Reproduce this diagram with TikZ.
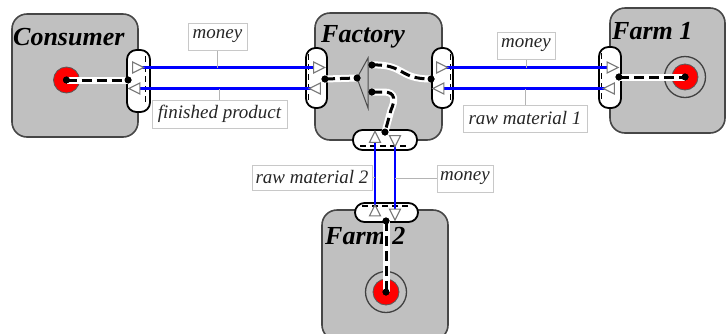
\documentclass[tikz,border=0pt]{standalone}
\usepackage{fontspec}
\setmainfont{Liberation Serif}
\usetikzlibrary{shapes.geometric}
\pgfdeclarelayer{front}
\pgfsetlayers{main,front}

\definecolor{boxgray}{RGB}{192,192,192}
\definecolor{edgegray}{RGB}{70,70,70}
\definecolor{taggray}{RGB}{200,200,200}
\definecolor{flowblue}{RGB}{0,0,255}
\definecolor{tipgray}{RGB}{120,120,120}

\begin{document}
\begin{tikzpicture}[x=1pt,y=-1pt,
  unitbox/.style={draw=edgegray, line width=1.6pt, fill=boxgray, rounded corners=15pt, inner sep=0pt},
  portbox/.style={draw=black, line width=1.8pt, fill=white, rounded corners=9.5pt, inner sep=0pt},
  portline/.style={draw=black, line width=1.4pt, dash pattern=on 6pt off 4pt},
  title/.style={anchor=base west, inner sep=0pt, font=\fontsize{26}{28}\selectfont\bfseries\itshape},
  tag/.style={draw=taggray, line width=1pt, fill=white, inner sep=0pt, text=black!85,
              font=\fontsize{19}{21}\selectfont\itshape},
  tagline/.style={draw=taggray!90!black, line width=0.9pt},
  tipmark/.style={isosceles triangle, isosceles triangle stretches, minimum width=11pt, minimum height=11pt,
                  inner sep=0pt, draw=tipgray, fill=white, line width=1.1pt},
  flow/.style={draw=flowblue, line width=2.5pt},
  wire/.style={draw=black, line width=3pt, dash pattern=on 10pt off 5pt,
               preaction={draw=white, line width=7pt, solid}},
  dot/.style={circle, fill=black, inner sep=0pt, minimum size=7pt},
  redspot/.style={circle, fill=red, draw=black!65, line width=0.8pt, inner sep=0pt, minimum size=26pt},
  ring/.style={circle, draw=black!75, line width=1.3pt, inner sep=0pt, minimum size=41pt},
  splitter/.style={draw=black!70, line width=1pt}
]
\useasboundingbox (0,0) rectangle (726,333);
\clip (0,0) rectangle (726,333);

% actors
\node[unitbox, minimum width=126pt, minimum height=123pt] (consumer) at (75,75.5) {};
\node[unitbox, minimum width=127pt, minimum height=127pt] (factory) at (378.5,76.5) {};
\node[unitbox, minimum width=115pt, minimum height=125pt] (farmA) at (667.5,70.5) {};
\node[unitbox, minimum width=126pt, minimum height=130pt] (farmB) at (385,275) {};

\node[title] (tc) at (13,45) {Consumer};
\node[title] (tf) at (321,42) {Factory};
\node[title] (ta) at (612,39) {Farm 1};
\node[title] (tb) at (325,244) {Farm 2};

% ports
\node[portbox, minimum width=23pt, minimum height=62pt] (pc) at (138.5,81) {};
\node[portbox, minimum width=21pt, minimum height=60pt] (pfl) at (316.5,78) {};
\node[portbox, minimum width=21pt, minimum height=60pt] (pfr) at (442.5,78) {};
\node[portbox, minimum width=22pt, minimum height=61pt] (pa) at (610,77.5) {};
\node[portbox, minimum width=64pt, minimum height=20pt] (pfb) at (385,140) {};
\node[portbox, minimum width=63pt, minimum height=19pt] (pb) at (386.5,212.5) {};

\draw[portline] ([xshift=-5.5pt,yshift=-7pt]pc.north east) -- ([xshift=-5.5pt,yshift=7pt]pc.south east);
\draw[portline] ([xshift=3.5pt,yshift=-7pt]pfl.north west) -- ([xshift=3.5pt,yshift=7pt]pfl.south west);
\draw[portline] ([xshift=-3.5pt,yshift=-7pt]pfr.north east) -- ([xshift=-3.5pt,yshift=7pt]pfr.south east);
\draw[portline] ([xshift=3.5pt,yshift=-7pt]pa.north west) -- ([xshift=3.5pt,yshift=7pt]pa.south west);
\draw[portline] ([xshift=8pt,yshift=5pt]pfb.south west) -- ([xshift=-8pt,yshift=5pt]pfb.south east);
\draw[portline] ([xshift=8pt,yshift=-4pt]pb.north west) -- ([xshift=-8pt,yshift=-4pt]pb.north east);

% flow direction marks
\begin{pgfonlayer}{front}
\node[tipmark, shape border rotate=0]   (c1) at (136,67.5) {};
\node[tipmark, shape border rotate=180] (c2) at (136.5,88.5) {};
\node[tipmark, shape border rotate=0]   (l1) at (317,67.5) {};
\node[tipmark, shape border rotate=180] (l2) at (317,88.5) {};
\node[tipmark, shape border rotate=0]   (r1) at (440,67.5) {};
\node[tipmark, shape border rotate=180] (r2) at (440.5,88.5) {};
\node[tipmark, shape border rotate=0]   (a1) at (610.5,67.5) {};
\node[tipmark, shape border rotate=180] (a2) at (611,88.5) {};
\node[tipmark, shape border rotate=90]  (d1) at (375,139) {};
\node[tipmark, shape border rotate=270] (d2) at (395,139) {};
\node[tipmark, shape border rotate=90]  (b1) at (375,212.5) {};
\node[tipmark, shape border rotate=270] (b2) at (395,212.5) {};
\end{pgfonlayer}

% exchanges
\draw[flow] (c1.center) -- (l1.center);
\draw[flow] (c2.center) -- (l2.center);
\draw[flow] (r1.center) -- (a1.center);
\draw[flow] (r2.center) -- (a2.center);
\draw[flow] (d1.center) -- (b1.center);
\draw[flow] (d2.center) -- (b2.center);

% labels
\node[tag, minimum width=59pt, minimum height=27pt] (lmc) at (217.5,36.5) {money};
\node[tag, minimum width=135pt, minimum height=28pt] (lfp) at (219.5,114) {finished product};
\node[tag, minimum width=58pt, minimum height=27pt] (lma) at (526,45.5) {money};
\node[tag, minimum width=124pt, minimum height=27pt] (lr1) at (525,118.5) {raw material 1};
\node[tag, minimum width=120pt, minimum height=25pt] (lr2) at (312,177.5) {raw material 2};
\node[tag, minimum width=56pt, minimum height=27pt] (lmb) at (465,178.5) {money};

\draw[tagline] (lmc.south) -- (lmc.south |- c1.center);
\draw[tagline] (lfp.north) -- (lfp.north |- c2.center);
\draw[tagline] (lma.south) -- (lma.south |- r1.center);
\draw[tagline] (lr1.north) -- (lr1.north |- r2.center);
\draw[tagline] (lr2.east) -- (lr2.east -| d1.center);
\draw[tagline] (lmb.west) -- (lmb.west -| d2.center);

% sources and sinks
\node[redspot] (cr) at (66.5,80) {};
\node[ring] (ar0) at (685,77) {};
\node[redspot] (ar) at (685,77) {};
\node[ring] (br0) at (386,292) {};
\node[redspot] (br) at (386,292) {};

% splitter inside the factory
\coordinate (stip) at (357,78);
\draw[splitter] (stip) -- (368,58) -- (368,108) -- cycle;

% internal dashed routes
\node[dot] (cd) at (cr.center) {};
\node[dot] (cp) at (128,80) {};
\node[dot] (fl) at (325,79) {};
\node[dot] (fs) at (stip) {};
\node[dot] (fu) at (372,65) {};
\node[dot] (fd) at (372,92) {};
\node[dot] (fr) at (431,79) {};
\node[dot] (fb) at (385,132) {};
\node[dot] (ap) at (619,77) {};
\node[dot] (ad) at (ar.center) {};
\node[dot] (bp) at (386,221) {};
\node[dot] (bd) at (br.center) {};

\draw[wire] (cd.center) -- (cp.center);
\draw[wire] (fl.center) -- (fs.center);
\draw[wire] (fu.center) .. controls (405,64) and (398,79) .. (fr.center);
\draw[wire] (fd.center) -- (384,92) .. controls (396,92) and (395,101) .. (391,110) -- (fb.center);
\draw[wire] (ap.center) -- (ad.center);
\draw[wire] (bp.center) -- (bd.center);

% dots on top of the routes
\foreach \d in {cd,cp,fl,fs,fu,fd,fr,fb,ap,ad,bp,bd}
  \fill (\d) circle (3.5pt);
\end{tikzpicture}
\end{document}
